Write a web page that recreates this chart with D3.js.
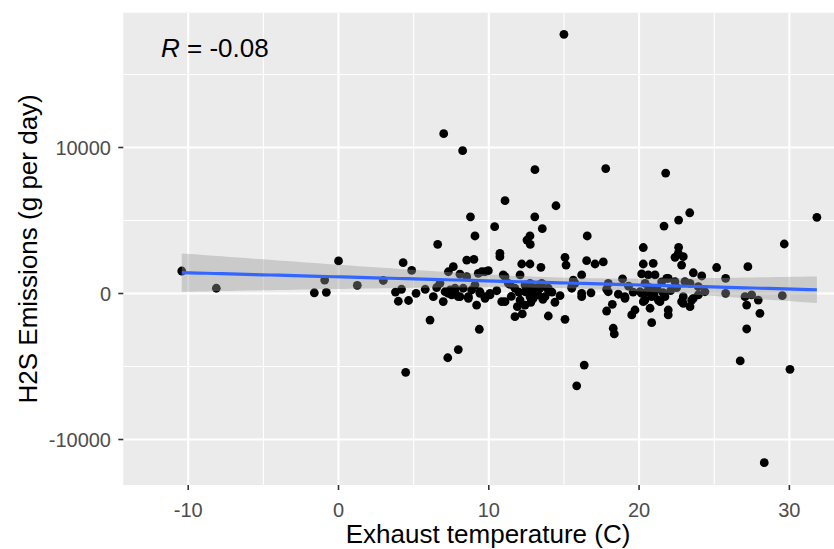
<!DOCTYPE html>
<html><head><meta charset="utf-8">
<script src="https://cdn.jsdelivr.net/npm/d3@7"></script>
<style>body{margin:0;background:#fff}</style>
</head><body>
<svg id="c" width="834" height="549"></svg>
<script>
// ---- data ----
const temperature = [15.0,7.0,8.26,13.07,17.78,21.77,23.37,22.63,21.66,31.83,11.08,14.47,8.78,13.06,10.39,13.56,9.08,6.60,12.74,12.54,12.76,16.55,20.28,22.63,29.66,27.24,25.16,10.74,10.74,8.53,9.01,7.64,7.31,9.30,9.53,9.97,10.96,
-10.43,-8.13,0.0,-0.92,-1.61,-0.81,1.25,2.98,4.30,4.87,3.79,4.19,3.98,4.66,5.16,5.77,6.09,6.31,6.53,6.75,6.97,7.09,7.42,7.75,7.97,8.30,8.64,8.86,9.08,9.19,9.41,9.37,7.97,7.27,4.47,9.75,10.08,10.53,10.86,9.75,7.53,7.31,7.75,
11.08,11.30,12.08,12.19,12.74,13.47,15.07,15.14,16.51,17.07,17.62,11.74,12.41,12.74,13.07,13.52,13.96,12.74,13.29,12.41,12.96,13.74,12.08,12.41,11.08,11.74,12.23,13.96,14.74,15.07,15.62,16.18,15.52,16.18,16.18,16.80,17.95,17.95,18.62,19.06,18.22,17.84,18.28,18.35,19.51,16.35,15.85,
11.5,12.0,12.6,13.2,13.6,11.9,12.8,13.4,14.2,14.4,12.74,13.41,13.96,15.52,17.84,19.06,15.73,8.08,8.53,8.08,8.64,9.41,10.08,9.75,11.41,
22.61,22.39,22.94,22.83,20.28,20.94,20.17,20.61,21.06,21.84,22.39,23.61,24.17,23.05,23.39,23.94,24.38,20.17,20.39,20.84,21.28,21.72,19.73,20.73,21.94,21.94,20.84,22.94,23.50,23.94,23.39,22.83,25.76,25.76,27.05,27.49,27.93,27.16,28.04,27.16,26.73,29.53,30.04,28.33,
20.06,20.28,21.39,20.94,22.94,23.61,21.94,18.9,19.3,19.6,20.4,20.7,21.2,21.5,22.1,22.5,21.0,20.5,21.6];
const emissions = [17750,10950,9780,8480,8560,8250,5530,5030,4620,5220,6360,6010,5250,5250,4580,4440,3940,3370,3940,3660,3360,3940,3150,3160,3390,1840,1780,2750,2520,2290,2340,1840,1490,1380,1490,1560,1270,
1540,360,2230,920,50,80,560,890,2110,1580,100,290,-530,-480,10,290,-1820,-220,410,700,-550,120,240,360,-220,360,-220,240,580,-790,10,-2450,-3840,-4400,-5400,-220,10,190,-560,1490,-100,10,120,
1150,700,1270,2020,2020,1790,2480,1950,2250,2020,2160,360,580,700,360,700,240,10,-100,120,-330,-220,-450,-790,-560,-1590,-1400,-1540,-150,-1770,920,1270,470,10,-220,50,700,120,-50,-220,-740,-1200,-2380,-2770,-1470,-4900,-6320,
-200,100,400,200,-400,-900,-600,500,100,-600,-220,360,360,360,300,-330,700,1320,1150,-220,-330,120,-100,-330,630,
2750,2480,2520,1950,2020,2070,1340,1270,1270,1040,810,1420,1200,810,700,470,120,10,-450,-220,-450,-220,-1130,-1010,-1130,-1470,-2000,-220,-450,-100,-900,-560,1040,10,-220,-100,-450,-790,-1360,-2430,-4620,-150,-5190,-11590,
120,-560,-560,10,-670,-330,1040,1000,500,100,700,400,300,800,200,400,-100,100,50];
const xTicks = [-10, 0, 10, 20, 30];
const xMinor = [-5, 5, 15, 25];
const yTicks = [-10000, 0, 10000];
const yMinor = [-5000, 5000, 15000];
const corrText = "-0.08";
const xTitle = "Exhaust temperature (C)";
const yTitle = "H2S Emissions (g per day)";

const points = temperature.map((t, i) => ({x: t, y: emissions[i]}));

const svg = d3.select("#c");
const P = {l: 123.3, r: 834, t: 12.7, b: 485};
const x = d3.scaleLinear().domain([-14.32, 32.97]).range([P.l, P.r]);
const y = d3.scaleLinear().domain([-13116, 19233]).range([P.b, P.t]);

svg.append("defs").append("clipPath").attr("id", "clip")
  .append("rect").attr("x", P.l).attr("y", P.t).attr("width", P.r - P.l).attr("height", P.b - P.t);

svg.append("rect").attr("x", P.l).attr("y", P.t).attr("width", P.r - P.l).attr("height", P.b - P.t).attr("fill", "#EBEBEB");

const g = svg.append("g").attr("clip-path", "url(#clip)");
// grid
g.selectAll(".vm").data(xMinor).join("line").attr("x1", d => x(d)).attr("x2", d => x(d)).attr("y1", P.t).attr("y2", P.b).attr("stroke", "#fff").attr("stroke-width", 1.1);
g.selectAll(".hm").data(yMinor).join("line").attr("y1", d => y(d)).attr("y2", d => y(d)).attr("x1", P.l).attr("x2", P.r).attr("stroke", "#fff").attr("stroke-width", 1.1);
g.selectAll(".vM").data(xTicks).join("line").attr("x1", d => x(d)).attr("x2", d => x(d)).attr("y1", P.t).attr("y2", P.b).attr("stroke", "#fff").attr("stroke-width", 2.1);
g.selectAll(".hM").data(yTicks).join("line").attr("y1", d => y(d)).attr("y2", d => y(d)).attr("x1", P.l).attr("x2", P.r).attr("stroke", "#fff").attr("stroke-width", 2.1);

// points
g.selectAll("circle").data(points).join("circle")
  .attr("cx", d => x(d.x)).attr("cy", d => y(d.y)).attr("r", 4.4).attr("fill", "#000");

// linear regression with 95% CI
const n = points.length;
const xb = d3.mean(points, d => d.x), yb = d3.mean(points, d => d.y);
const Sxx = d3.sum(points, d => (d.x - xb) ** 2);
const Sxy = d3.sum(points, d => (d.x - xb) * (d.y - yb));
const b = Sxy / Sxx, a = yb - b * xb;
const s = Math.sqrt(d3.sum(points, d => (d.y - a - b * d.x) ** 2) / (n - 2));
const tq = 1.971;
const [xmin, xmax] = d3.extent(points, d => d.x);
const grid = d3.range(80).map(i => xmin + (xmax - xmin) * i / 79);
const fit = grid.map(xv => {
  const yh = a + b * xv;
  const se = s * Math.sqrt(1 / n + (xv - xb) ** 2 / Sxx);
  return {x: xv, y: yh, lo: yh - tq * se, hi: yh + tq * se};
});
g.append("path").datum(fit)
  .attr("d", d3.area().x(d => x(d.x)).y0(d => y(d.lo)).y1(d => y(d.hi)))
  .attr("fill", "#999999").attr("fill-opacity", 0.4);
g.append("path").datum(fit)
  .attr("d", d3.line().x(d => x(d.x)).y(d => y(d.y)))
  .attr("fill", "none").attr("stroke", "#3366FF").attr("stroke-width", 3.2);

// axes
const font = "'Liberation Sans', Arial, sans-serif";
svg.selectAll(".xt").data(xTicks).join("line").attr("x1", d => x(d)).attr("x2", d => x(d)).attr("y1", P.b).attr("y2", P.b + 5).attr("stroke", "#333").attr("stroke-width", 1.6);
svg.selectAll(".xl").data(xTicks).join("text").attr("x", d => x(d)).attr("y", 517).attr("text-anchor", "middle")
  .attr("font-family", font).attr("font-size", 20).attr("fill", "#4D4D4D").text(d => d);
svg.selectAll(".yt").data(yTicks).join("line").attr("y1", d => y(d)).attr("y2", d => y(d)).attr("x1", P.l - 5).attr("x2", P.l).attr("stroke", "#333").attr("stroke-width", 1.6);
svg.selectAll(".yl").data(yTicks).join("text").attr("x", 111).attr("y", d => y(d)).attr("dy", "0.36em").attr("text-anchor", "end")
  .attr("font-family", font).attr("font-size", 20).attr("fill", "#4D4D4D").text(d => d);

svg.append("text").attr("x", 488).attr("y", 543).attr("text-anchor", "middle")
  .attr("font-family", font).attr("font-size", 26).attr("fill", "#000").text(xTitle);
svg.append("text").attr("transform", `translate(37,${(P.t + P.b) / 2}) rotate(-90)`).attr("text-anchor", "middle")
  .attr("font-family", font).attr("font-size", 26).attr("fill", "#000").text(yTitle);

const rl = svg.append("text").attr("x", 161).attr("y", 57).attr("font-family", font).attr("font-size", 26).attr("fill", "#000");
rl.append("tspan").attr("font-style", "italic").text("R");
rl.append("tspan").text(" = " + corrText);
</script>
</body></html>
